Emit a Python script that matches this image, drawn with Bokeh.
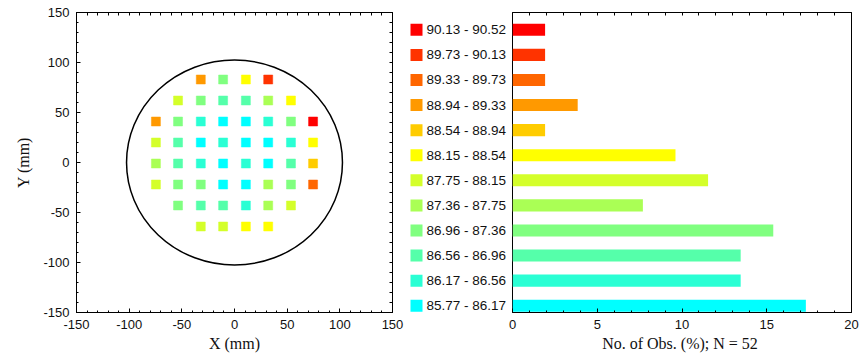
from bokeh.plotting import figure
from bokeh.layouts import row
from bokeh.models import Range1d, LinearAxis, SingleIntervalTicker, FixedTicker, ColumnDataSource
from bokeh.embed import file_html
from bokeh.resources import INLINE
from bokeh.core.properties import value

# Class boundaries of the measured quantity and the colour of each class (low -> high)
bin_edges = [85.77, 86.17, 86.56, 86.96, 87.36, 87.75, 88.15,
             88.54, 88.94, 89.33, 89.73, 90.13, 90.52]
bin_colors = ["#00FFFF", "#2AFFD4", "#55FFAA", "#80FF80", "#AAFF55", "#D4FF2A",
              "#FFFF00", "#FFCC00", "#FF9900", "#FF6600", "#FF3300", "#FF0000"]

# Measurement site grid on the wafer (mm)
col_x = [-74.6, -53.6, -32.0, -10.8, 10.8, 32.0, 53.6, 74.6]
row_y = [83, 62, 41, 20, -1, -22, -43, -64]
# Class index of every site, one list per row (None = no site)
site_rows = [
    [None, None, 8, 3, 6, 10, None, None],
    [None, 5, 3, 2, 2, 4, 6, None],
    [8, 3, 1, 0, 0, 1, 3, 11],
    [5, 2, 0, 1, 0, 0, 1, 6],
    [4, 2, 1, 0, 1, 0, 2, 7],
    [5, 3, 3, 0, 0, 4, 3, 9],
    [None, 3, 2, 2, 1, 4, 5, None],
    [None, None, 5, 5, 6, 6, None, None],
]
wafer_radius = 102.5

# Axis tick values of the wafer map
map_ticks = [-150, -100, -50, 0, 50, 100, 150]

SANS = "Liberation Sans"
SERIF = "Liberation Serif"

# ---- flatten sites ----
sx, sy, sbin = [], [], []
for yv, r in zip(row_y, site_rows):
    for xv, b in zip(col_x, r):
        if b is not None:
            sx.append(xv)
            sy.append(yv)
            sbin.append(b)
n_sites = len(sbin)
site_src = ColumnDataSource(dict(x=sx, y=sy, color=[bin_colors[b] for b in sbin]))

# ---- histogram of classes ----
n_bins = len(bin_colors)
counts = [sbin.count(i) for i in range(n_bins)]
pct = [100.0 * c / n_sites for c in counts]
labels = ["%.2f - %.2f" % (bin_edges[i], bin_edges[i + 1]) for i in range(n_bins)]
hist_src = ColumnDataSource(dict(idx=list(range(n_bins)), pct=pct,
                                 color=bin_colors, label=labels))


def style_axis(ax, interval):
    ax.ticker = SingleIntervalTicker(interval=interval, num_minor_ticks=5)
    ax.axis_line_color = "black"
    ax.axis_line_width = 1
    ax.major_tick_line_color = "black"
    ax.minor_tick_line_color = "black"
    ax.major_tick_in = 4
    ax.major_tick_out = 0
    ax.minor_tick_in = 2
    ax.minor_tick_out = 0
    ax.major_label_text_font = SANS
    ax.major_label_text_font_size = "13px"
    ax.major_label_text_color = "#111111"
    ax.major_label_standoff = 7
    ax.axis_label_text_font = SERIF
    ax.axis_label_text_font_size = "16px"
    ax.axis_label_text_font_style = "normal"
    ax.axis_label_text_color = "#111111"
    ax.axis_label_standoff = 3


def tick_only_axis(lo, hi, step):
    # frame edge with inward ticks and no labels
    ax = LinearAxis(ticker=FixedTicker(ticks=[], minor_ticks=list(range(lo, hi + 1, step))))
    ax.axis_line_color = "black"
    ax.minor_tick_line_color = "black"
    ax.minor_tick_in = 3
    ax.minor_tick_out = 0
    ax.major_tick_in = 0
    ax.major_tick_out = 0
    return ax


# plain hyphen-minus on negative tick labels
hyphen_labels = {t: str(t) for t in map_ticks}

# ---- wafer map ----
p1 = figure(width=404, height=354, x_range=Range1d(-150, 150), y_range=Range1d(-150, 150),
            output_backend="svg", toolbar_location=None,
            x_axis_location=None, y_axis_location=None,
            min_border_left=76, min_border_right=12, min_border_top=12, min_border_bottom=42)
p1.grid.grid_line_color = None
p1.outline_line_color = "black"
p1.outline_line_alpha = 1

ax_b = LinearAxis(axis_label="X (mm)")
style_axis(ax_b, 50)
ax_b.major_label_overrides = hyphen_labels
p1.add_layout(ax_b, "below")
ax_l = LinearAxis(axis_label="Y (mm)")
style_axis(ax_l, 50)
ax_l.major_label_overrides = hyphen_labels
ax_l.major_label_standoff = 7
ax_l.axis_label_standoff = 8
p1.add_layout(ax_l, "left")
p1.add_layout(tick_only_axis(-150, 150, 10), "above")
p1.add_layout(tick_only_axis(-150, 150, 10), "right")

p1.ellipse(x=0, y=0, width=2 * wafer_radius, height=2 * wafer_radius,
           fill_color=None, line_color="black", line_width=1.5)
p1.scatter(x="x", y="y", source=site_src, marker="square", size=9,
           fill_color="color", line_color="color", line_width=0.5)

# ---- shared vertical scale for the class list and bars ----
bar_y = Range1d(-0.27, 11.69)

# ---- class labels with colour keys ----
p2 = figure(width=104, height=354, x_range=Range1d(0, 104), y_range=bar_y,
            output_backend="svg", toolbar_location=None,
            x_axis_location=None, y_axis_location=None,
            min_border_left=0, min_border_right=0, min_border_top=12, min_border_bottom=42)
p2.grid.grid_line_color = None
p2.outline_line_color = None
p2.rect(x=12, y="idx", width=12, height=12, width_units="screen", height_units="screen",
        source=hist_src, fill_color="color", line_color=None)
p2.text(x=22, y="idx", text="label", source=hist_src,
        text_font=value(SANS), text_font_size="13.5px", text_color="#111111",
        text_baseline="middle", text_align="left")

# ---- histogram bars ----
p3 = figure(width=354, height=354, x_range=Range1d(0, 20), y_range=bar_y,
            output_backend="svg", toolbar_location=None,
            x_axis_location=None, y_axis_location=None,
            min_border_left=4, min_border_right=11, min_border_top=12, min_border_bottom=42)
p3.grid.grid_line_color = None
p3.outline_line_color = "black"
p3.outline_line_alpha = 1

bx_b = LinearAxis(axis_label="No. of Obs. (%);  N = " + str(n_sites))
style_axis(bx_b, 5)
p3.add_layout(bx_b, "below")
p3.add_layout(tick_only_axis(0, 20, 1), "above")

p3.hbar(y="idx", left=0, right="pct", height=0.48, source=hist_src,
        fill_color="color", line_color=None)

layout = row(p1, p2, p3)
open("out.html", "w").write(file_html(layout, INLINE))
